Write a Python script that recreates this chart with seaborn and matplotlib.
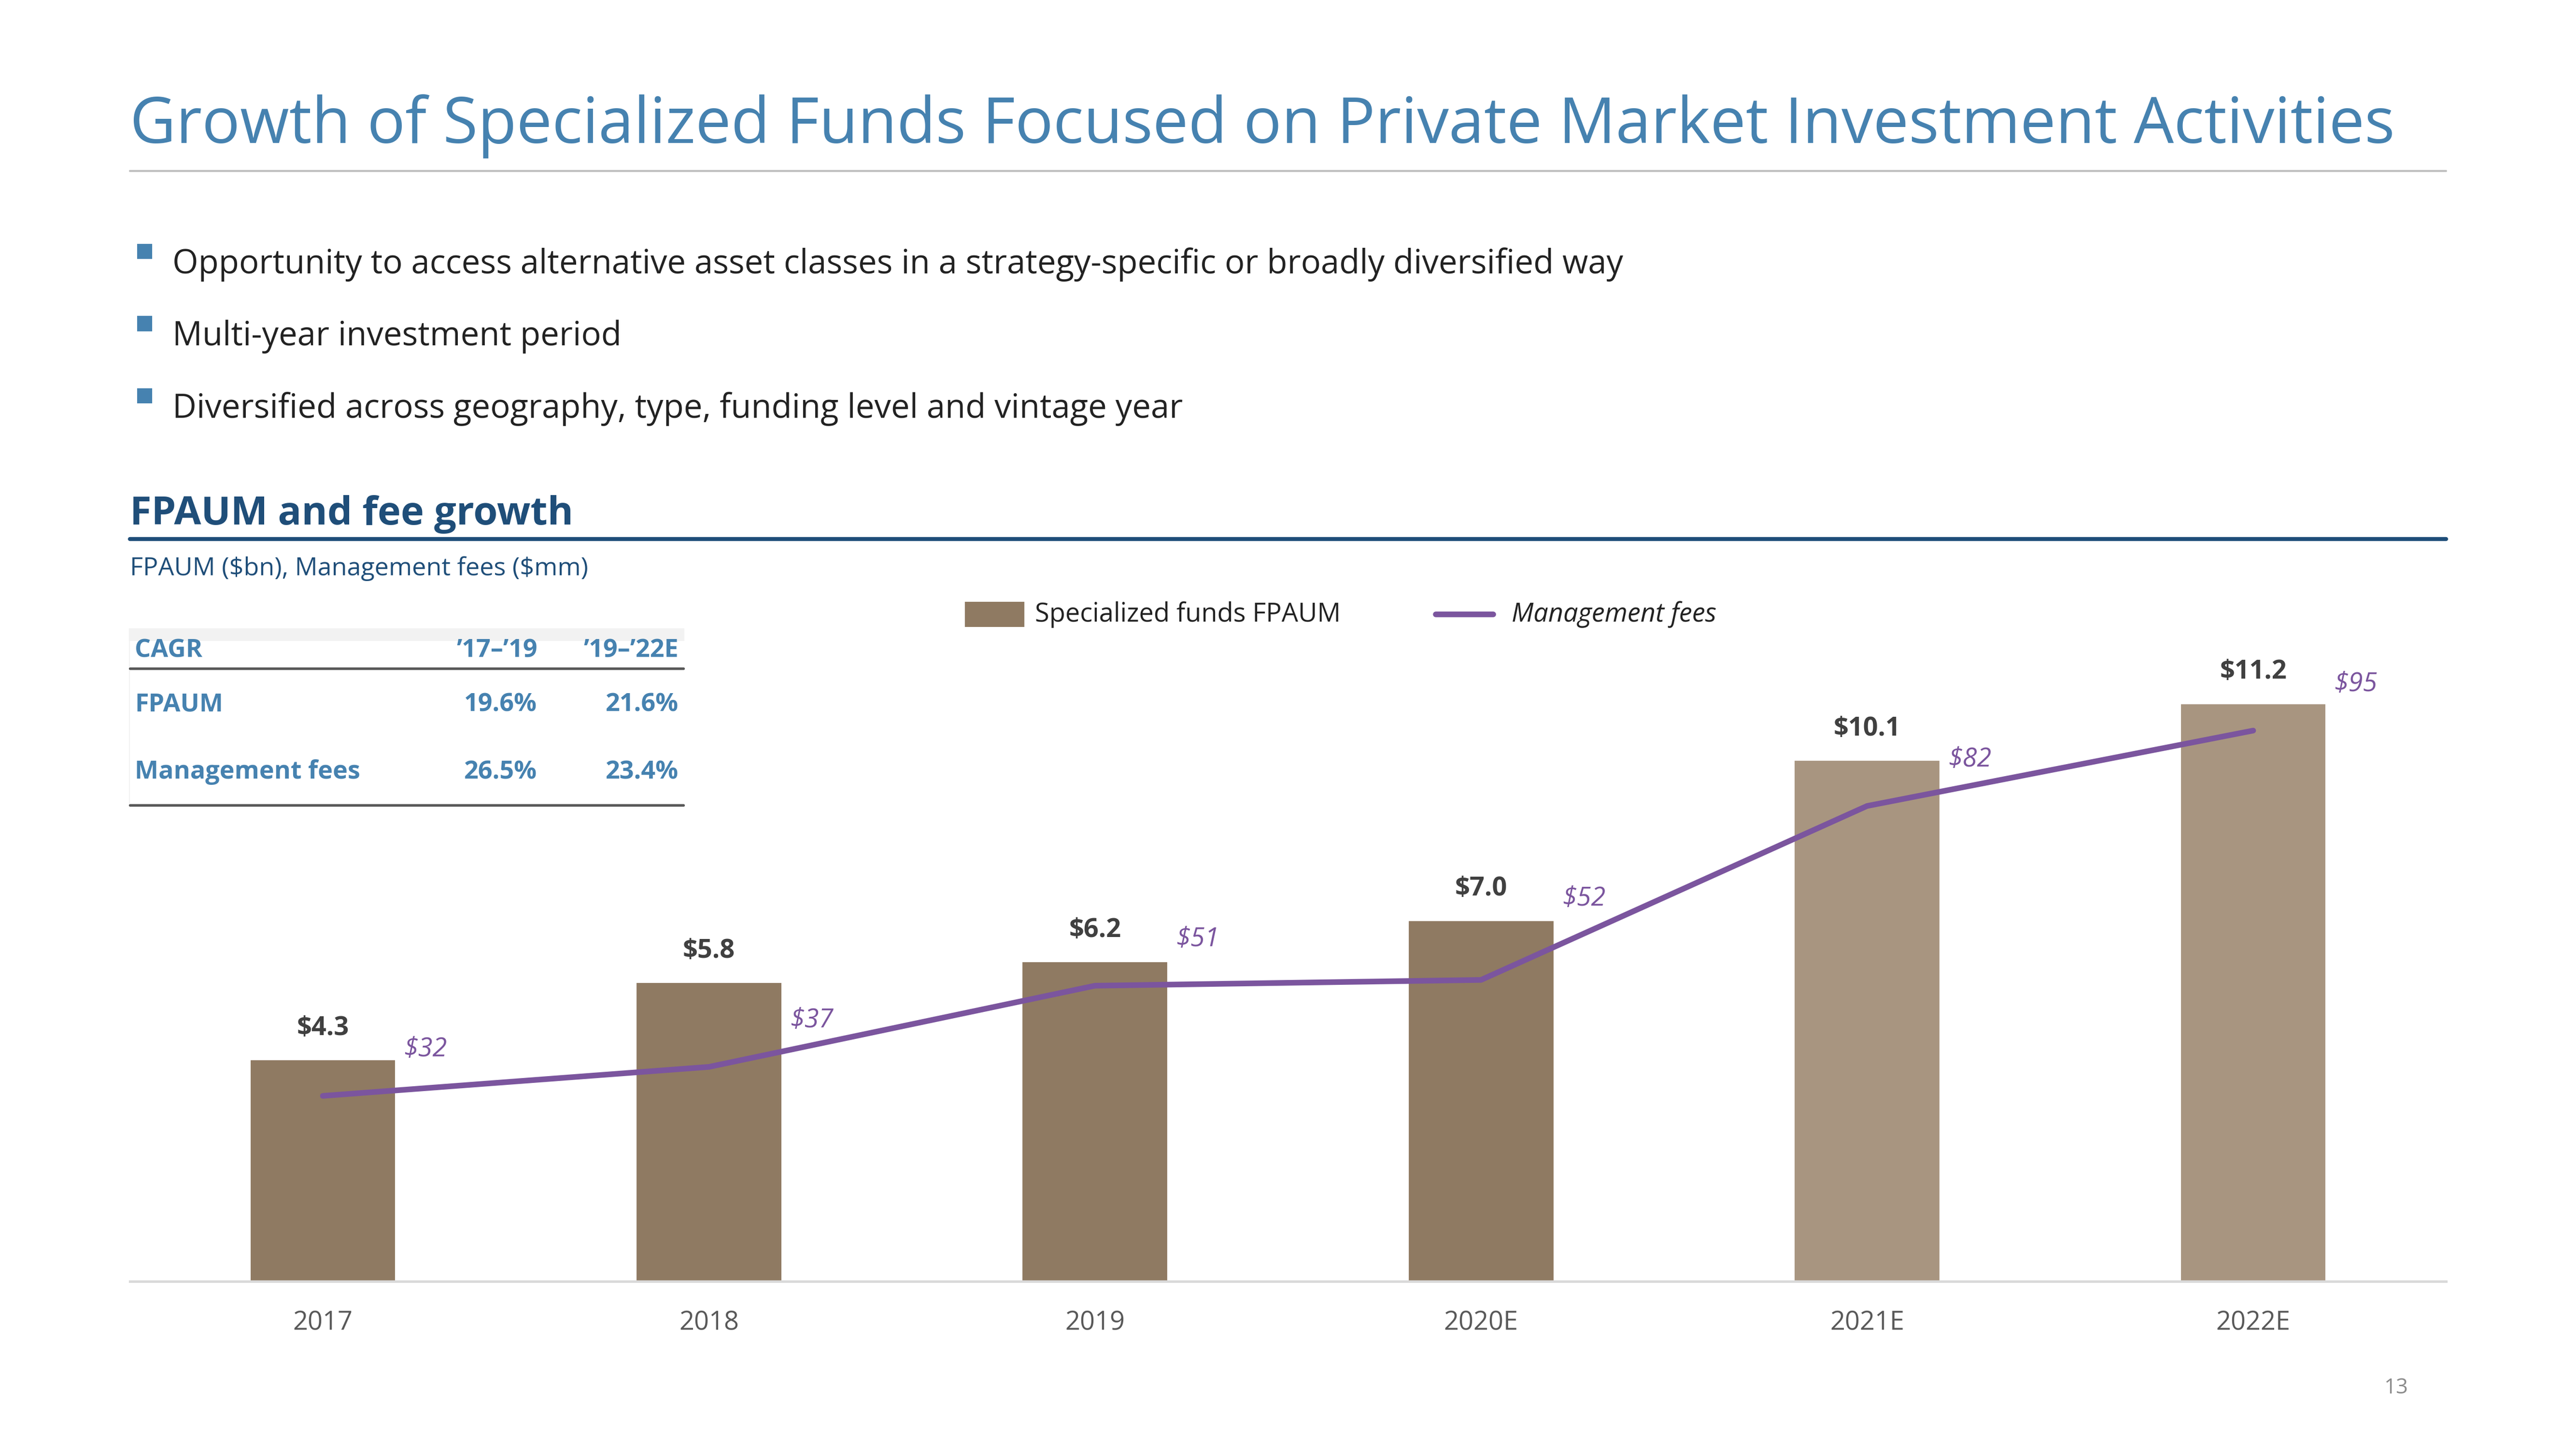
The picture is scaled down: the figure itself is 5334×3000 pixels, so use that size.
import matplotlib as mpl
import matplotlib.pyplot as plt
import seaborn as sns
import pandas as pd
from matplotlib.patches import Rectangle
from matplotlib.lines import Line2D

years = ["2017", "2018", "2019", "2020E", "2021E", "2022E"]
fpaum = [4.3, 5.8, 6.2, 7.0, 10.1, 11.2]
fees = [32, 37, 51, 52, 82, 95]
bullets = [
    "Opportunity to access alternative asset classes in a strategy-specific or broadly diversified way",
    "Multi-year investment period",
    "Diversified across geography, type, funding level and vintage year",
]
cagr_cols = ["’17–’19", "’19–’22E"]
cagr_rows = [("FPAUM", "19.6%", "21.6%"), ("Management fees", "26.5%", "23.4%")]

sns.set_theme(style="white")
mpl.rcParams["font.family"] = ["Open Sans", "DejaVu Sans"]
mpl.rcParams["text.parse_math"] = False

W, H = 1568, 882
fx = lambda x: x / W
fy = lambda y: 1 - y / H

BLUE = "#4682B0"
NAVY = "#1F4E79"
BAR = "#8F7A62"
BAR_E = "#A89580"
PURPLE = "#7B559E"

fig = plt.figure(figsize=(17.78, 10), dpi=300)

fig.text(fx(79), fy(77), "Growth of Specialized Funds Focused on Private Market Investment Activities",
         color=BLUE, fontsize=31.5, va="center", ha="left")
fig.add_artist(Line2D([fx(79), fx(1489)], [fy(104), fy(104)], color="#BFBFBF", lw=1))

for i, b in enumerate(bullets):
    y = 161 + 44 * i
    fig.add_artist(Rectangle((fx(84), fy(y - 4)), fx(8), 8 / H, color=BLUE, transform=fig.transFigure))
    fig.text(fx(105), fy(y), b, fontsize=16.5, va="center", ha="left", color="#222222")

fig.text(fx(79), fy(313), "FPAUM and fee growth", color=NAVY, fontsize=19.5, fontweight="bold",
         va="center", ha="left")
fig.add_artist(Line2D([fx(79), fx(1489)], [fy(328), fy(328)], color=NAVY, lw=2))
fig.text(fx(79), fy(346), "FPAUM ($bn), Management fees ($mm)", color=NAVY, fontsize=12.5,
         va="center", ha="left")

# chart
ax = fig.add_axes([fx(79), fy(780), fx(1489) - fx(79), (780 - 390) / H])
df = pd.DataFrame({"year": years, "fpaum": fpaum})
sns.barplot(data=df, x="year", y="fpaum", ax=ax, width=0.38,
            palette=[BAR] * 4 + [BAR_E] * 2, hue="year", legend=False, saturation=1)
ax.set_xlim(-0.5, 5.5)
ax.set_ylim(0, 12.41)
for i, v in enumerate(fpaum):
    ax.text(i, v + 0.35, f"${v:.1f}", ha="center", va="bottom", fontsize=13,
            fontweight="bold", color="#404040")
ax2 = ax.twinx()
sns.lineplot(x=list(range(6)), y=fees, ax=ax2, color=PURPLE, lw=2.8)
ax2.set_ylim(0, 110.5)
for i, v in enumerate(fees):
    off = 14 if i == 3 else 8
    ax2.text(i + 0.21, v + off, f"${v}", ha="left", va="center", fontsize=13,
             fontstyle="italic", color=PURPLE)
for a in (ax, ax2):
    a.set_yticks([])
    a.set_ylabel("")
    a.set_xlabel("")
    for s in a.spines.values():
        s.set_visible(False)
ax.spines["bottom"].set_visible(True)
ax.spines["bottom"].set_color("#D9D9D9")
ax.tick_params(axis="x", length=0, pad=14, labelsize=13, labelcolor="#595959")

# legend
fig.add_artist(Rectangle((fx(588), fy(381)), fx(35), 14 / H, color=BAR, transform=fig.transFigure))
fig.text(fx(630), fy(374), "Specialized funds FPAUM", fontsize=13, va="center", color="#222222")
fig.add_artist(Line2D([fx(874), fx(909)], [fy(374), fy(374)], color=PURPLE, lw=2.8))
fig.text(fx(920), fy(374), "Management fees", fontsize=13, va="center", fontstyle="italic",
         color="#222222")

# CAGR table
fig.add_artist(Rectangle((fx(79), fy(490)), fx(416) - fx(79), (490 - 383) / H,
                         color="#F2F2F2", transform=fig.transFigure, zorder=0))
fig.add_artist(Line2D([fx(79), fx(416)], [fy(407), fy(407)], color="#595959", lw=1.3))
fig.add_artist(Line2D([fx(79), fx(416)], [fy(490), fy(490)], color="#595959", lw=1.3))
fig.text(fx(82), fy(396), "CAGR", color=BLUE, fontsize=12.5, fontweight="bold", va="center")
for j, c in enumerate(cagr_cols):
    fig.text(fx([327, 413][j]), fy(396), c, color=BLUE, fontsize=12.5, fontweight="bold",
             va="center", ha="right")
for i, (name, a, b) in enumerate(cagr_rows):
    y = [429, 470][i]
    fig.text(fx(82), fy(y), name, color=BLUE, fontsize=12.5, fontweight="bold", va="center")
    fig.text(fx(327), fy(y), a, color=BLUE, fontsize=12.5, fontweight="bold", va="center", ha="right")
    fig.text(fx(413), fy(y), b, color=BLUE, fontsize=12.5, fontweight="bold", va="center", ha="right")

fig.text(fx(1466), fy(845), "13", color="#8C8C8C", fontsize=10.5, va="center", ha="right")

fig.savefig("out.png", dpi=300, facecolor="white")
